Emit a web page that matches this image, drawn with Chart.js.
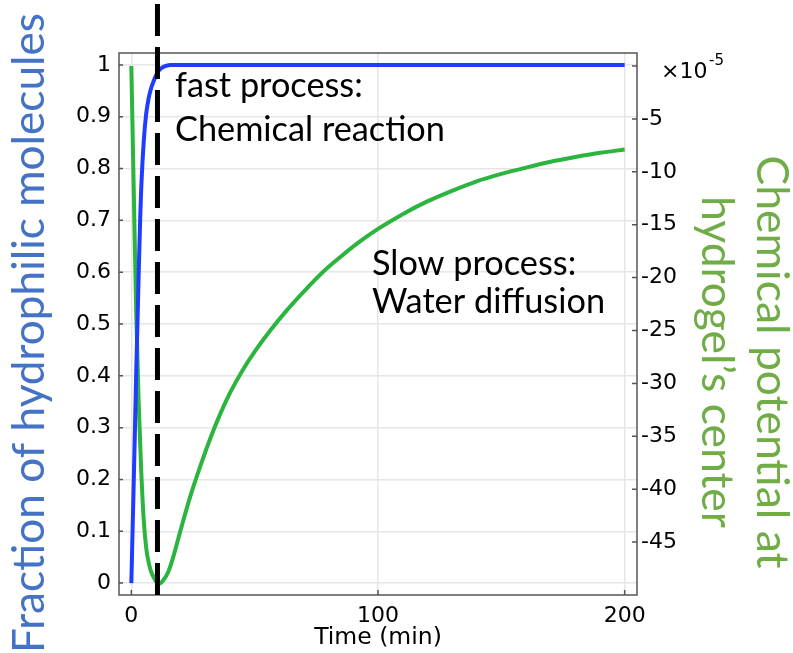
<!DOCTYPE html>
<html>
<head>
<meta charset="utf-8">
<script src="https://cdn.jsdelivr.net/npm/chart.js@4.4.0/dist/chart.umd.min.js"></script>
<style>
  html, body { margin: 0; padding: 0; background: #fff; }
</style>
</head>
<body>
<canvas id="chart" width="793" height="653"></canvas>
<script>
// fraction of hydrophilic molecules (left axis)
const timeBlue = [0, 1, 2, 3, 3.6, 4, 5, 6, 7, 8, 9, 10, 11, 12, 14, 16, 20, 30, 50, 100, 150, 200];
const fraction = [0, 0.2, 0.41, 0.6, 0.706, 0.76, 0.85, 0.905, 0.935, 0.955, 0.968, 0.98, 0.988, 0.993, 0.998, 1, 1, 1, 1, 1, 1, 1];

// chemical potential at hydrogel's center, x10^-5 (right axis)
const timeGreen = [0, 1, 2, 3, 4, 5, 6, 7, 8, 9, 10, 11, 12, 13, 15, 17, 19, 21, 24, 28, 32, 36, 40, 45, 50, 56, 63, 70, 78, 85, 92, 100, 110, 120, 130, 140, 150, 160, 170, 180, 190, 200];
const potential = [0, -12, -23.5, -32, -38.2, -42.8, -45.5, -46.9, -47.8, -48.3, -48.7, -48.9, -48.85, -48.6, -47.8, -46.4, -44.7, -43.0, -40.6, -37.8, -35.2, -32.9, -30.9, -28.8, -27.0, -25.1, -23.1, -21.3, -19.4, -18.0, -16.7, -15.4, -14.0, -12.8, -11.8, -10.9, -10.2, -9.6, -9.05, -8.6, -8.2, -7.9];

const xTicks = [0, 100, 200];
const leftTicks = [0, 0.1, 0.2, 0.3, 0.4, 0.5, 0.6, 0.7, 0.8, 0.9, 1];
const rightTicks = [-45, -40, -35, -30, -25, -20, -15, -10, -5, 0];

// end of the fast process (dashed line)
const switchTime = 10.6;

const BLUE = '#1f3cff';
const GREEN = '#2cb53e';
const TITLE_BLUE = '#4472c4';
const TITLE_GREEN = '#70ad47';
const GRID = '#e6e6e6';
const TICK_FONT = { family: 'DejaVu Sans', size: 22 };
const TEXT_FAMILY = 'Lato';

function toPoints(xs, ys) {
    return xs.map((x, i) => ({ x: x, y: ys[i] }));
}

function setTicks(values) {
    return function(scale) {
        scale.ticks = values.map(v => ({ value: v }));
    };
}

// font size so that text fills a given width
function fitSize(ctx, text, width, family) {
    ctx.font = '100px "' + family + '"';
    return 100 * width / ctx.measureText(text).width;
}

const decor = {
    id: 'decor',
    afterDatasetsDraw(chart) {
        const ctx = chart.ctx;
        const a = chart.chartArea;
        const sx = chart.scales.x, sl = chart.scales.y, sr = chart.scales.y1;
        ctx.save();

        // inward tick marks
        ctx.strokeStyle = '#555';
        ctx.lineWidth = 1.5;
        ctx.beginPath();
        leftTicks.forEach(v => {
            const y = sl.getPixelForValue(v);
            ctx.moveTo(a.left, y); ctx.lineTo(a.left + 4, y);
        });
        rightTicks.forEach(v => {
            const y = sr.getPixelForValue(v);
            ctx.moveTo(a.right, y); ctx.lineTo(a.right - 5, y);
        });
        xTicks.forEach(v => {
            const x = sx.getPixelForValue(v);
            ctx.moveTo(x, a.bottom); ctx.lineTo(x, a.bottom - 5);
        });
        ctx.stroke();

        // frame
        ctx.strokeRect(a.left, a.top, a.right - a.left, a.bottom - a.top);

        // dashed line at the end of the fast process
        const xd = sx.getPixelForValue(switchTime);
        ctx.strokeStyle = '#000';
        ctx.lineWidth = 5;
        ctx.setLineDash([32, 11]);
        ctx.beginPath();
        ctx.moveTo(xd, a.bottom);
        ctx.lineTo(xd, 4);
        ctx.stroke();
        ctx.restore();
    },
    afterDraw(chart) {
        const ctx = chart.ctx;
        const a = chart.chartArea;
        ctx.save();
        ctx.textBaseline = 'alphabetic';

        // exponent of the right axis
        ctx.fillStyle = '#000';
        ctx.textAlign = 'left';
        ctx.font = '22px "DejaVu Sans"';
        ctx.fillText('\u00d710', 661, 78);
        ctx.font = '15px "DejaVu Sans"';
        ctx.fillText('-5', 709, 65);

        // annotations
        const annSize = fitSize(ctx, 'Chemical reaction', 270, TEXT_FAMILY);
        ctx.font = annSize + 'px "' + TEXT_FAMILY + '"';
        ctx.fillText('fast process:', 175, 97);
        ctx.fillText('Chemical reaction', 175, 141);
        ctx.fillText('Slow process:', 372, 275);
        ctx.fillText('Water diffusion', 372, 313);

        // x axis title
        ctx.textAlign = 'center';
        ctx.font = '23.5px "DejaVu Sans"';
        ctx.fillText('Time (min)', (a.left + a.right) / 2, 644);

        // left axis title
        const leftSize = fitSize(ctx, 'Fraction of hydrophilic molecules', 640, TEXT_FAMILY);
        ctx.fillStyle = TITLE_BLUE;
        ctx.font = leftSize + 'px "' + TEXT_FAMILY + '"';
        ctx.save();
        ctx.translate(44, 333);
        ctx.rotate(-Math.PI / 2);
        ctx.fillText('Fraction of hydrophilic molecules', 0, 0);
        ctx.restore();

        // right axis title, two lines
        const rightSize = fitSize(ctx, 'Chemical potential at', 413, TEXT_FAMILY);
        ctx.fillStyle = TITLE_GREEN;
        ctx.font = rightSize + 'px "' + TEXT_FAMILY + '"';
        ctx.save();
        ctx.translate(757, 362);
        ctx.rotate(Math.PI / 2);
        ctx.fillText('Chemical potential at', 0, 0);
        ctx.restore();
        ctx.save();
        ctx.translate(702, 362);
        ctx.rotate(Math.PI / 2);
        ctx.fillText('hydrogel\u2019s center', 0, 0);
        ctx.restore();

        ctx.restore();
    }
};

new Chart(document.getElementById('chart'), {
    type: 'line',
    data: {
        datasets: [{
            label: 'Fraction of hydrophilic molecules',
            data: toPoints(timeBlue, fraction),
            borderColor: BLUE,
            borderWidth: 4,
            pointRadius: 0,
            cubicInterpolationMode: 'monotone',
            yAxisID: 'y'
        }, {
            label: 'Chemical potential',
            data: toPoints(timeGreen, potential),
            borderColor: GREEN,
            borderWidth: 4,
            pointRadius: 0,
            cubicInterpolationMode: 'monotone',
            yAxisID: 'y1'
        }]
    },
    options: {
        responsive: false,
        animation: false,
        devicePixelRatio: 1,
        layout: { padding: { top: 53, left: 0, right: 0, bottom: 0 } },
        plugins: {
            legend: { display: false },
            tooltip: { enabled: false }
        },
        scales: {
            x: {
                type: 'linear',
                min: -5,
                max: 205,
                afterBuildTicks: setTicks(xTicks),
                afterFit: s => { s.height = 58; },
                grid: { color: GRID, lineWidth: 1.5, drawTicks: false },
                border: { display: false },
                ticks: { color: '#000', font: TICK_FONT, padding: 8, maxRotation: 0 }
            },
            y: {
                position: 'left',
                min: -0.023,
                max: 1.023,
                afterBuildTicks: setTicks(leftTicks),
                afterFit: s => { s.width = 119; },
                grid: { color: GRID, lineWidth: 1.5, drawTicks: false },
                border: { display: false },
                ticks: {
                    color: '#000',
                    font: TICK_FONT,
                    padding: 8,
                    callback: v => String(Math.round(v * 10) / 10)
                }
            },
            y1: {
                position: 'right',
                min: -50,
                max: 1.23,
                afterBuildTicks: setTicks(rightTicks),
                afterFit: s => { s.width = 156; },
                grid: { display: false, drawTicks: false },
                border: { display: false },
                ticks: {
                    color: '#000',
                    font: TICK_FONT,
                    padding: 4,
                    callback: v => v === 0 ? '' : String(v)
                }
            }
        }
    },
    plugins: [decor]
});
</script>
</body>
</html>
